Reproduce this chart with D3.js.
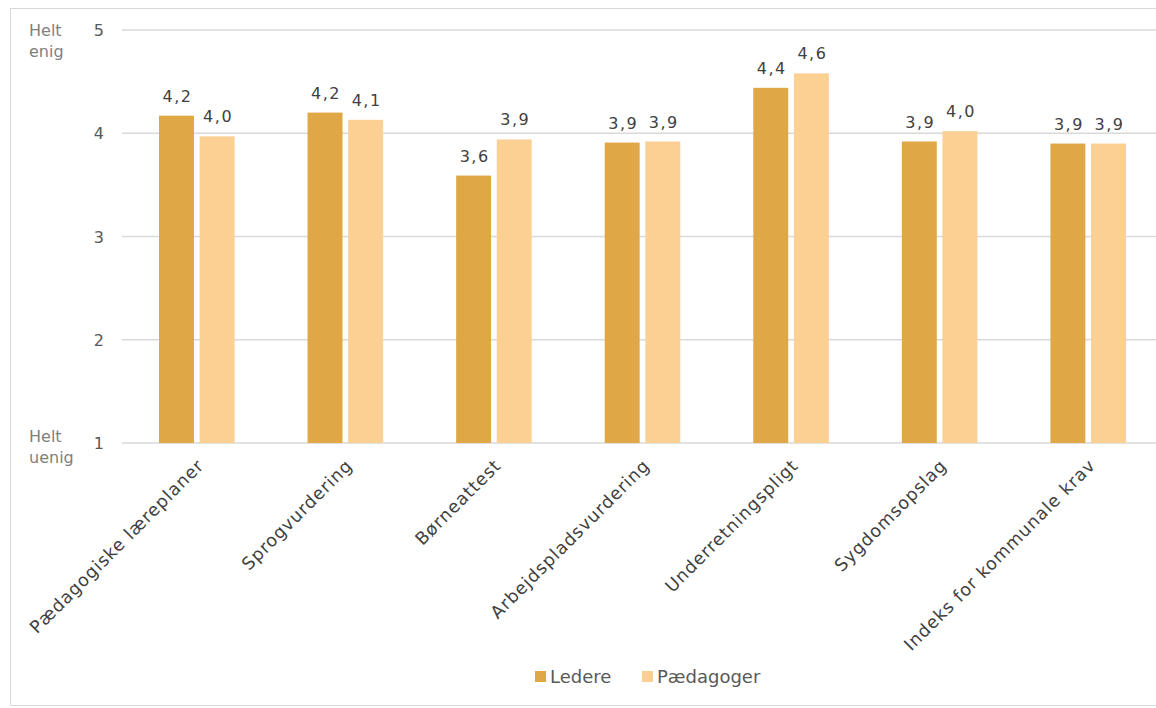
<!DOCTYPE html>
<html>
<head>
<meta charset="utf-8">
<script src="https://cdn.jsdelivr.net/npm/d3@7"></script>
<style>
  body { margin: 0; background: #fff; }
  svg { font-family: "DejaVu Sans", Verdana, sans-serif; }
</style>
</head>
<body>
<svg id="chart" width="1156" height="708"></svg>
<script>
// Kategorier og værdier
const categories = ["Pædagogiske læreplaner", "Sprogvurdering", "Børneattest", "Arbejdspladsvurdering",
  "Underretningspligt", "Sygdomsopslag", "Indeks for kommunale krav"];
const ledere = [4.17, 4.20, 3.59, 3.91, 4.44, 3.92, 3.90];
const paedagoger = [3.97, 4.13, 3.94, 3.92, 4.58, 4.02, 3.90];
const seriesNames = ["Ledere", "Pædagoger"];
const yTicks = [1, 2, 3, 4, 5];

const colors = ["#dfa745", "#fccf93"];
const svg = d3.select("#chart");

// ramme
svg.append("rect")
  .attr("x", 10.5).attr("y", 8.5)
  .attr("width", 1160).attr("height", 697)
  .attr("fill", "none").attr("stroke", "#d9d9d9");

const x = d3.scaleBand().domain(categories).range([122, 1162]);
const y = d3.scaleLinear().domain([1, 5]).range([443, 30]);
const inner = d3.scaleBand().domain(seriesNames).range([37, x.bandwidth() - 36]).paddingInner(0.14);

// gitterlinjer
svg.append("g").selectAll("line").data(yTicks).join("line")
  .attr("x1", 122).attr("x2", 1156)
  .attr("y1", d => y(d)).attr("y2", d => y(d))
  .attr("stroke", "#d9d9d9").attr("stroke-width", 1.5);

// y-akse etiketter
svg.append("g").selectAll("text").data(yTicks).join("text")
  .attr("x", 104).attr("y", d => y(d) + 6)
  .attr("text-anchor", "end")
  .attr("font-size", 16).attr("fill", "#595959")
  .text(d => d);

const ends = [["Helt", "enig", 36], ["Helt", "uenig", 442]];
ends.forEach(([a, b, yy]) => {
  const t = svg.append("text").attr("x", 29).attr("y", yy)
    .attr("font-size", 16).attr("fill", "#7f7f7f");
  t.append("tspan").attr("x", 29).text(a);
  t.append("tspan").attr("x", 29).attr("dy", 21).text(b);
});

const rows = categories.map((c, i) => ({ c, vals: [ledere[i], paedagoger[i]] }));

const groups = svg.append("g").selectAll("g").data(rows).join("g")
  .attr("transform", d => `translate(${x(d.c)},0)`);

groups.selectAll("rect").data(d => d.vals.map((v, j) => ({ v, s: seriesNames[j], j }))).join("rect")
  .attr("x", d => inner(d.s))
  .attr("width", inner.bandwidth())
  .attr("y", d => y(d.v))
  .attr("height", d => y(1) - y(d.v))
  .attr("fill", d => colors[d.j]);

groups.selectAll("text").data(d => d.vals.map((v, j) => ({ v, s: seriesNames[j] }))).join("text")
  .attr("x", d => inner(d.s) + inner.bandwidth() / 2 + 1)
  .attr("y", d => y(d.v) - 14)
  .attr("text-anchor", "middle")
  .attr("font-size", 16).attr("letter-spacing", 1.5).attr("fill", "#404040")
  .text(d => d.v.toFixed(1).replace(".", ","));

// kategori-etiketter
svg.append("g").selectAll("text").data(categories).join("text")
  .attr("transform", d => `translate(${x(d) + x.bandwidth() / 2},${458}) rotate(-45)`)
  .attr("text-anchor", "end")
  .attr("font-size", 17.5).attr("letter-spacing", 0.9).attr("fill", "#404040")
  .attr("dy", "0.7em")
  .text(d => d);

// forklaring
const legend = svg.append("g").attr("transform", "translate(535,671)");
const lx = [0, 107];
seriesNames.forEach((s, i) => {
  legend.append("rect").attr("x", lx[i]).attr("y", 0).attr("width", 11).attr("height", 11).attr("fill", colors[i]);
  legend.append("text").attr("x", lx[i] + 15).attr("y", 12)
    .attr("font-size", 18).attr("fill", "#595959").text(s);
});
</script>
</body>
</html>
